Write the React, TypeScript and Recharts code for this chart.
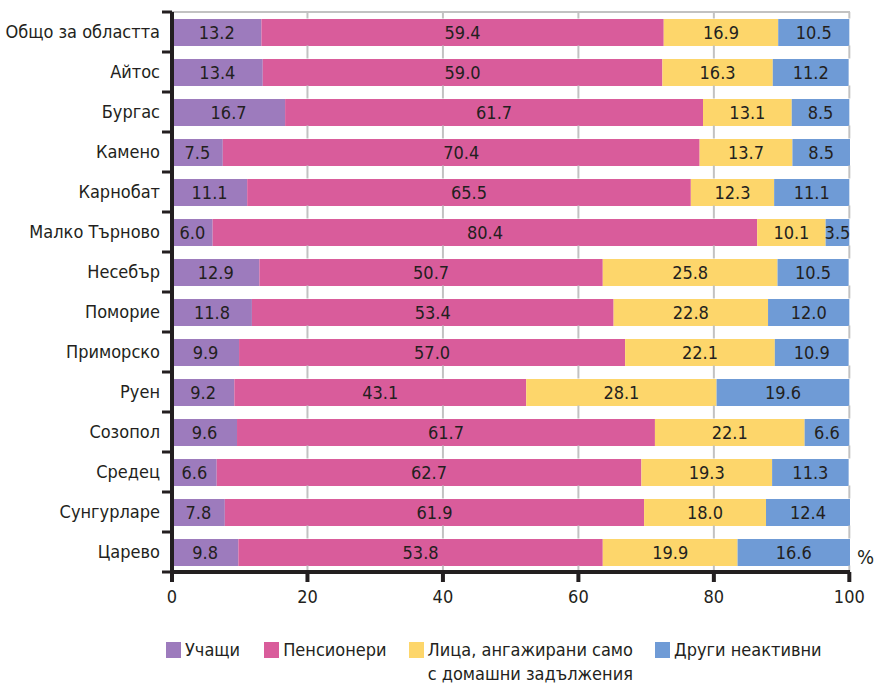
import React from 'react';
import { BarChart, Bar, XAxis, YAxis, CartesianGrid, LabelList, ReferenceLine } from 'recharts';

const categories = [
  'Общо за областта', 'Айтос', 'Бургас', 'Камено', 'Карнобат', 'Малко Търново', 'Несебър',
  'Поморие', 'Приморско', 'Руен', 'Созопол', 'Средец', 'Сунгурларе', 'Царево',
];
const students = [13.2, 13.4, 16.7, 7.5, 11.1, 6.0, 12.9, 11.8, 9.9, 9.2, 9.6, 6.6, 7.8, 9.8];
const pensioners = [59.4, 59.0, 61.7, 70.4, 65.5, 80.4, 50.7, 53.4, 57.0, 43.1, 61.7, 62.7, 61.9, 53.8];
const household = [16.9, 16.3, 13.1, 13.7, 12.3, 10.1, 25.8, 22.8, 22.1, 28.1, 22.1, 19.3, 18.0, 19.9];
const otherInactive = [10.5, 11.2, 8.5, 8.5, 11.1, 3.5, 10.5, 12.0, 10.9, 19.6, 6.6, 11.3, 12.4, 16.6];
const xTicks = [0, 20, 40, 60, 80, 100];

const FONT = "'DejaVu Sans Condensed', 'Liberation Sans Narrow', sans-serif";
const INK = '#231f20';
const GRID = '#c2c2c2';
const BAR_SIZE = 27;

const series = [
  { key: 'students', name: 'Учащи', color: '#9d7bbd' },
  { key: 'pensioners', name: 'Пенсионери', color: '#d95c9b' },
  { key: 'household', name: 'Лица, ангажирани само\nс домашни задължения', color: '#fdd66b' },
  { key: 'other', name: 'Други неактивни', color: '#6f9bd6' },
];

const data = categories.map((name, i) => ({
  name,
  students: students[i],
  pensioners: pensioners[i],
  household: household[i],
  other: otherInactive[i],
}));

// category labels plus the small marks between the bands
const CategoryTick = (props: any) => {
  const { x, y, payload, index } = props;
  const half = 20;
  const ax = 172;
  return (
    <g>
      <text x={x - 4} y={y} dy={6} textAnchor="end" fontSize={18} fill={INK} fontFamily={FONT}>
        {payload.value}
      </text>
      <line x1={ax - 10} y1={y - half} x2={ax} y2={y - half} stroke={INK} strokeWidth={3} />
      {index === categories.length - 1 && (
        <line x1={ax - 10} y1={y + half} x2={ax} y2={y + half} stroke={INK} strokeWidth={3} />
      )}
    </g>
  );
};

// grid line drawn only in the gaps between bars, so it looks like it sits behind them
const GapLine = (props: any) => {
  const { x1, y1, y2, stroke, strokeWidth } = props;
  if (x1 == null || y1 == null || y2 == null) return null;
  const top = Math.min(y1, y2);
  const bottom = Math.max(y1, y2);
  const band = (bottom - top) / categories.length;
  const gap = (band - BAR_SIZE) / 2;
  const segs = [];
  for (let i = 0; i <= categories.length; i++) {
    const c = top + i * band;
    const a = Math.max(top, c - gap);
    const b = Math.min(bottom, c + gap);
    segs.push(<line key={i} x1={x1} x2={x1} y1={a} y2={b} stroke={stroke} strokeWidth={strokeWidth} />);
  }
  return <g>{segs}</g>;
};

const LegendBox = () => (
  <div
    style={{
      position: 'absolute', top: 638, left: 0, display: 'flex',
      fontFamily: FONT, fontSize: 18, color: INK, lineHeight: '24px',
    }}
  >
    {series.map((s, i) => (
      <div key={s.key} style={{ display: 'flex', alignItems: 'flex-start', marginLeft: [166, 24, 22, 22][i] }}>
        <div style={{ width: 15, height: 16, background: s.color, marginTop: 4, marginRight: 4 }} />
        <div style={{ whiteSpace: 'pre', textAlign: 'center' }}>{s.name}</div>
      </div>
    ))}
  </div>
);

export default function App() {
  return (
    <div style={{ position: 'absolute', left: 0, top: 0, width: 874, height: 684, background: '#fff' }}>
      <BarChart
        width={874}
        height={684}
        data={data}
        layout="vertical"
        margin={{ top: 12, right: 24, left: 0, bottom: 82 }}
        barSize={BAR_SIZE}
      >
        <CartesianGrid
          stroke={GRID}
          strokeWidth={2}
          vertical={false}
          horizontalCoordinatesGenerator={({ offset }: any) => [offset.top]}
        />
        {xTicks.slice(1).map((t) => (
          <ReferenceLine key={t} x={t} stroke={GRID} strokeWidth={2} shape={GapLine} />
        ))}
        <XAxis
          type="number"
          domain={[0, 100]}
          ticks={xTicks}
          height={30}
          axisLine={{ stroke: INK, strokeWidth: 4 }}
          tickLine={{ stroke: INK, strokeWidth: 4 }}
          tickSize={10}
          tick={{ fontSize: 18, fill: INK, fontFamily: FONT, dy: 6 }}
          label={{ value: '%', position: 'insideTopRight', offset: 0, dx: 24, dy: -22, fontSize: 20, fill: INK, fontFamily: FONT }}
        />
        <YAxis
          type="category"
          dataKey="name"
          width={172}
          axisLine={{ stroke: INK, strokeWidth: 4 }}
          tickLine={false}
          tick={CategoryTick}
          interval={0}
        />
        {series.map((s) => (
          <Bar key={s.key} dataKey={s.key} stackId="a" fill={s.color} name={s.name} isAnimationActive={false}>
            <LabelList
              dataKey={s.key}
              position="center"
              formatter={(v: any) => Number(v).toFixed(1)}
              style={{ fontSize: 18, fill: INK, fontFamily: FONT }}
            />
          </Bar>
        ))}
      </BarChart>
      <LegendBox />
    </div>
  );
}
